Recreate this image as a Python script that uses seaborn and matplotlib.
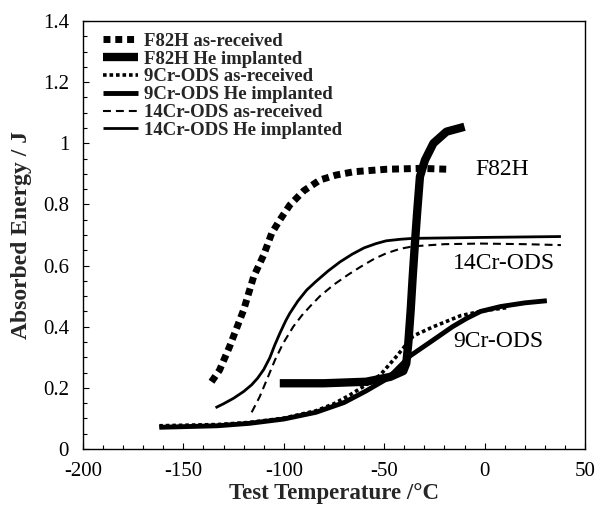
import matplotlib
matplotlib.use("Agg")
import matplotlib.pyplot as plt
from matplotlib.ticker import MultipleLocator
import seaborn as sns

# ---- data ----
t_f82h_ar = [-136, -132, -127, -120, -115, -110, -106, -102, -97, -90, -82, -74, -65, -49, -32, -18]
e_f82h_ar = [0.220, 0.258, 0.335, 0.455, 0.564, 0.635, 0.706, 0.749, 0.798, 0.845, 0.880, 0.896, 0.907, 0.915, 0.918, 0.915]

t_f82h_he = [-102, -80, -59, -47, -40.5, -39, -38, -36.8, -35.8, -34.7, -33.5, -32.2, -29.7, -25.5, -19, -10]
e_f82h_he = [0.215, 0.215, 0.220, 0.236, 0.255, 0.280, 0.346, 0.455, 0.564, 0.673, 0.782, 0.891, 0.945, 1.000, 1.038, 1.054]

t_9cr_ar = [-162, -133, -117, -100, -84, -75, -67, -59, -52, -44, -35.5, -25.5, -12, 0, 12]
e_9cr_ar = [0.076, 0.080, 0.087, 0.101, 0.125, 0.148, 0.177, 0.210, 0.242, 0.302, 0.370, 0.400, 0.436, 0.453, 0.463]

t_9cr_he = [-162, -133, -117, -100, -84, -70, -59, -48, -37, -27, -16, -9, -2, 8, 20, 31]
e_9cr_he = [0.071, 0.076, 0.084, 0.098, 0.120, 0.152, 0.190, 0.232, 0.305, 0.350, 0.400, 0.427, 0.450, 0.466, 0.478, 0.485]

t_14cr_ar = [-116, -112, -108.5, -104.4, -100.3, -95.3, -91, -87, -82, -75, -68, -62, -55, -49, -42, -35.5, -20, -2, 20, 38]
e_14cr_ar = [0.120, 0.171, 0.226, 0.291, 0.346, 0.400, 0.437, 0.466, 0.500, 0.538, 0.570, 0.595, 0.622, 0.640, 0.655, 0.663, 0.670, 0.672, 0.670, 0.667]

t_14cr_he = [-134, -130, -125, -120, -116, -113, -110, -107, -104.5, -102, -99, -97, -93, -88.6, -84, -78, -72, -66, -60, -54, -49, -42, -35.5, -2, 38]
e_14cr_he = [0.135, 0.148, 0.166, 0.188, 0.210, 0.232, 0.260, 0.298, 0.340, 0.378, 0.420, 0.444, 0.484, 0.520, 0.548, 0.582, 0.612, 0.637, 0.658, 0.672, 0.681, 0.686, 0.689, 0.692, 0.695]

series_labels = ["F82H as-received", "F82H He implanted", "9Cr-ODS as-received",
                 "9Cr-ODS He implanted", "14Cr-ODS as-received", "14Cr-ODS He implanted"]

annot_text = ["F82H", "14Cr-ODS", "9Cr-ODS"]
annot_x = [8.7, 9.7, 6.7]
annot_y = [0.913, 0.607, 0.352]

x_ticks = [-200, -150, -100, -50, 0, 50]
y_ticks = [0, 0.2, 0.4, 0.6, 0.8, 1.0, 1.2, 1.4]
y_ticklabels = ["0", "0.2", "0.4", "0.6", "0.8", "1", "1.2", "1.4"]

# ---- style ----
sns.set_style("white")
plt.rcParams["font.family"] = ["Liberation Serif", "DejaVu Serif"]
plt.rcParams["axes.unicode_minus"] = False
plt.rcParams["axes.edgecolor"] = "black"

fig = plt.figure(figsize=(5.96, 5.09), dpi=100)
ax = fig.add_axes([83/596, 60/509, 502/596, 428/509])

styles = [
    dict(lw=5.0, ls=(0, (1, 0.7)), dash_capstyle="butt", zorder=3),
    dict(lw=6.0, ls="-", solid_capstyle="butt", zorder=6),
    dict(lw=2.6, ls=(0, (1, 0.8)), dash_capstyle="butt", zorder=4),
    dict(lw=3.5, ls="-", solid_capstyle="butt", zorder=5),
    dict(lw=1.5, ls=(0, (3.8, 2.4)), dash_capstyle="butt", zorder=3),
    dict(lw=2.0, ls="-", solid_capstyle="butt", zorder=3),
]
series = [(t_f82h_ar, e_f82h_ar), (t_f82h_he, e_f82h_he), (t_9cr_ar, e_9cr_ar),
          (t_9cr_he, e_9cr_he), (t_14cr_ar, e_14cr_ar), (t_14cr_he, e_14cr_he)]

for (tx, ey), kw, lab in zip(series, styles, series_labels):
    sns.lineplot(x=tx, y=ey, ax=ax, sort=False, estimator=None, color="black",
                 label=lab, legend=False, **kw)

for s, xx, yy in zip(annot_text, annot_x, annot_y):
    ax.text(xx, yy, s, ha="center", va="center", fontsize=17, color="black")

ax.set_xlim(-200, 50)
ax.set_ylim(0, 1.4)
ax.set_xticks(x_ticks)
ax.set_yticks(y_ticks)
ax.set_yticklabels(y_ticklabels)
ax.xaxis.set_minor_locator(MultipleLocator(10))
ax.yaxis.set_minor_locator(MultipleLocator(0.05))

ax.tick_params(axis="both", which="both", direction="in", top=False, right=False,
               bottom=True, left=True, colors="black", labelsize=15, width=0.8)
ax.tick_params(axis="both", which="major", length=4)
ax.tick_params(axis="both", which="minor", length=3)
ax.tick_params(axis="x", which="major", pad=9)
ax.tick_params(axis="y", which="major", pad=10)

for sp in ax.spines.values():
    sp.set_visible(True)
    sp.set_linewidth(1.0)
    sp.set_color("black")

ax.set_xlabel("Test Temperature /°C", fontsize=16.5, fontweight="bold", labelpad=2)
ax.set_ylabel("Absorbed Energy / J", fontsize=17, fontweight="bold", labelpad=8)

leg = ax.legend(loc="upper left", bbox_to_anchor=(0.04, 0.973), frameon=False,
                borderpad=0, borderaxespad=0, handlelength=1.85, handletextpad=0.35,
                labelspacing=0.04,
                prop={"family": ["Liberation Serif"], "weight": "bold", "size": 13.5})

fig.savefig("out.png", dpi=100)
